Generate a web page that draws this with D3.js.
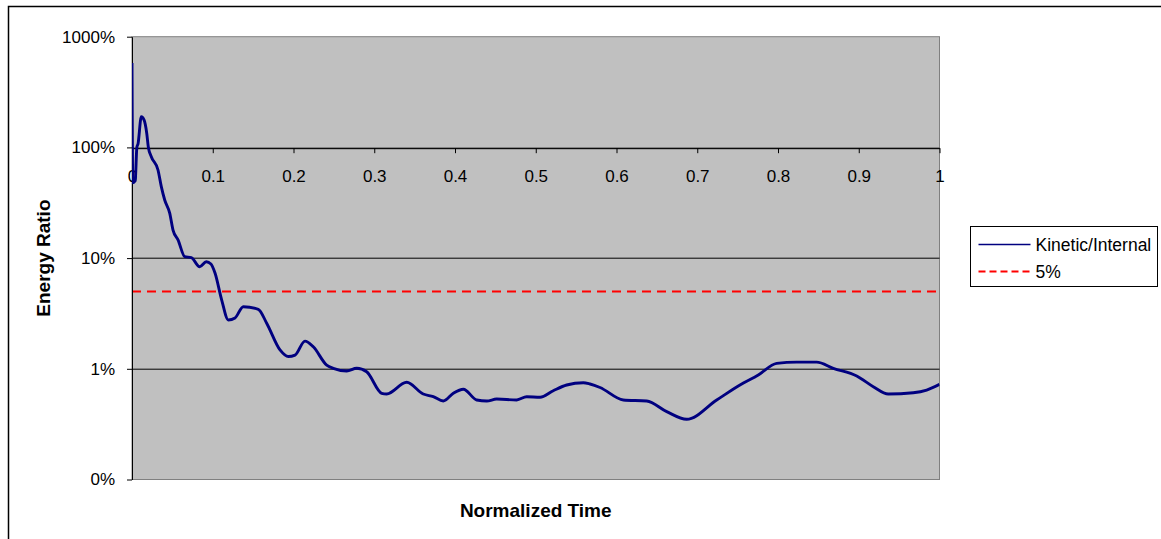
<!DOCTYPE html>
<html>
<head>
<meta charset="utf-8">
<script src="https://cdn.jsdelivr.net/npm/d3@7"></script>
<style>
  body { margin: 0; background: #fff; }
  svg text { font-family: "Liberation Sans", Arial, sans-serif; fill: #000; }
</style>
</head>
<body>
<div id="chart"></div>
<script>
// normalized time and kinetic/internal energy ratio (in %)
var times = [0, 0.001, 0.004, 0.006, 0.0075, 0.0115, 0.0149, 0.0182, 0.0202, 0.0239, 0.0322, 0.0363,
  0.0405, 0.0467, 0.0508, 0.057, 0.0653, 0.0734, 0.0838, 0.092, 0.0978, 0.1028, 0.1111, 0.1193,
  0.1276, 0.1378, 0.1564, 0.1668, 0.1833, 0.1936, 0.2019, 0.2142, 0.2245, 0.2411, 0.2493, 0.2659,
  0.2783, 0.2906, 0.3092, 0.3154, 0.3402, 0.3607, 0.3731, 0.3855, 0.3979, 0.4103, 0.4269, 0.4393,
  0.4516, 0.4764, 0.4888, 0.5053, 0.5217, 0.5383, 0.5589, 0.5672, 0.5796, 0.6084, 0.6374, 0.6622,
  0.6869, 0.7241, 0.7529, 0.7756, 0.7984, 0.8232, 0.8479, 0.8685, 0.8975, 0.918, 0.9366, 0.9675,
  0.9841, 1.0];
var ratios = [578, 48, 50, 100, 108, 189, 177, 135, 101, 82.4, 62.5, 44.2,
  33.5, 25.5, 17.9, 14.6, 10.3, 10.1, 8.36, 9.27, 8.85, 7.33, 4.18, 2.76,
  2.88, 3.64, 3.45, 2.58, 1.48, 1.29, 1.33, 1.78, 1.58, 1.08, 1.01, 0.955,
  1.01, 0.94, 0.601, 0.592, 0.755, 0.592, 0.56, 0.512, 0.601, 0.653, 0.523, 0.512,
  0.533, 0.523, 0.56, 0.553, 0.634, 0.714, 0.749, 0.729, 0.678, 0.523, 0.512, 0.41,
  0.35, 0.523, 0.714, 0.879, 1.12, 1.15, 1.15, 1.01, 0.861, 0.689, 0.592, 0.608,
  0.643, 0.724];
var threshold = 5; // 5% line

var yTicks = [1000, 100, 10, 1, 0.1];
var yTickLabels = ["1000%", "100%", "10%", "1%", "0%"];
var xTicks = [0, 0.1, 0.2, 0.3, 0.4, 0.5, 0.6, 0.7, 0.8, 0.9, 1];
var xTickLabels = ["0", "0.1", "0.2", "0.3", "0.4", "0.5", "0.6", "0.7", "0.8", "0.9", "1"];
var legendNames = ["Kinetic/Internal", "5%"];

var W = 1161, H = 539;
var margin = {top: 36.7, right: 221.5, bottom: 59.5, left: 132},
    width = W - margin.left - margin.right,
    height = H - margin.top - margin.bottom;

var svg = d3.select("#chart").append("svg")
    .attr("width", W)
    .attr("height", H);

// outer chart frame (runs off the right/bottom of the picture)
svg.append("rect")
    .attr("x", 8.5).attr("y", 6.5)
    .attr("width", 1200).attr("height", 600)
    .attr("fill", "none")
    .attr("stroke", "#000")
    .attr("stroke-width", 1.5);

var g = svg.append("g")
    .attr("transform", "translate(" + margin.left + "," + margin.top + ")");

var x = d3.scaleLinear().domain([0, 1]).range([0, width]);
var y = d3.scaleLog().domain([0.1, 1000]).range([height, 0]);

// plot area
g.append("rect")
    .attr("width", width)
    .attr("height", height)
    .attr("fill", "#c0c0c0")
    .attr("stroke", "#808080")
    .attr("stroke-width", 1);

g.append("clipPath").attr("id", "clip")
  .append("rect").attr("width", width).attr("height", height);

// gridlines
g.selectAll(".grid")
    .data(yTicks.slice(1, yTicks.length - 1))
  .enter().append("line")
    .attr("class", "grid")
    .attr("x1", 0).attr("x2", width)
    .attr("y1", function(d) { return Math.round(y(d)) + 0.5; })
    .attr("y2", function(d) { return Math.round(y(d)) + 0.5; })
    .attr("stroke", "#000")
    .attr("stroke-width", 1);

// 5% line
g.append("line")
    .attr("x1", 0).attr("x2", width)
    .attr("y1", y(threshold)).attr("y2", y(threshold))
    .attr("stroke", "#ff0000")
    .attr("stroke-width", 2)
    .attr("stroke-dasharray", "9,6");

// x axis crosses at 100%
var xAxis = g.append("g")
    .attr("transform", "translate(0," + (Math.round(y(100)) + 0.5) + ")")
    .call(d3.axisBottom(x)
      .tickValues(xTicks)
      .tickFormat(function(d, i) { return xTickLabels[i]; })
      .tickSize(5)
      .tickSizeOuter(0)
      .tickPadding(17));
xAxis.select(".domain").attr("stroke", "#000");
xAxis.selectAll("text").style("font-size", "17px");

// y axis
var yAxis = g.append("g")
    .call(d3.axisLeft(y)
      .tickValues(yTicks)
      .tickFormat(function(d, i) { return yTickLabels[i]; })
      .tickSize(5)
      .tickSizeOuter(0)
      .tickPadding(12));
yAxis.select(".domain").attr("stroke", "#000");
yAxis.selectAll("text").style("font-size", "17px");

// the series
var line = d3.line()
    .x(function(d, i) { return x(times[i]); })
    .y(function(d) { return y(d); })
    .curve(d3.curveMonotoneX);

g.append("path")
    .datum(ratios)
    .attr("clip-path", "url(#clip)")
    .attr("d", line)
    .attr("fill", "none")
    .attr("stroke", "#000080")
    .attr("stroke-width", 2.9)
    .attr("stroke-linejoin", "round");

// axis titles
svg.append("text")
    .attr("transform", "translate(50," + (margin.top + y(10)) + ") rotate(-90)")
    .attr("text-anchor", "middle")
    .style("font-size", "19px")
    .style("font-weight", "bold")
    .text("Energy Ratio");

svg.append("text")
    .attr("x", margin.left + width / 2)
    .attr("y", 517)
    .attr("text-anchor", "middle")
    .style("font-size", "19px")
    .style("font-weight", "bold")
    .text("Normalized Time");

// legend
var legend = svg.append("g").attr("transform", "translate(970.5,226.5)");
legend.append("rect")
    .attr("width", 187).attr("height", 60)
    .attr("fill", "#fff")
    .attr("stroke", "#000")
    .attr("stroke-width", 1);
var legendStyles = [
  {color: "#000080", dash: null, width: 1.5},
  {color: "#ff0000", dash: "7,4", width: 2}
];
legend.selectAll(".item")
    .data(legendNames)
  .enter().append("g")
    .attr("class", "item")
    .each(function(d, i) {
      var it = d3.select(this);
      var ly = 18 + i * 27;
      it.append("line")
        .attr("x1", 8).attr("x2", 60)
        .attr("y1", ly).attr("y2", ly)
        .attr("stroke", legendStyles[i].color)
        .attr("stroke-width", legendStyles[i].width)
        .attr("stroke-dasharray", legendStyles[i].dash);
      it.append("text")
        .attr("x", 65).attr("y", ly + 6)
        .style("font-size", "17.5px")
        .text(d);
    });
</script>
</body>
</html>
